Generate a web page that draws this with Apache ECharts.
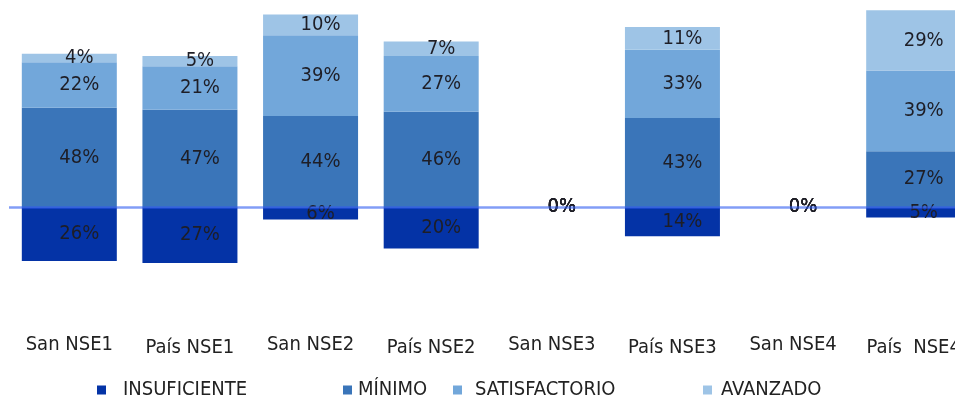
<!DOCTYPE html>
<html>
<head>
<meta charset="utf-8">
<script src="https://cdn.jsdelivr.net/npm/echarts@6/dist/echarts.min.js"></script>
<style>
  html, body { margin: 0; padding: 0; background: #fff; overflow: hidden; }
  #chart { width: 985px; height: 401px; }
</style>
</head>
<body>
<div id="chart"></div>
<script>
// values (percent)
var categories = ["San NSE1", "País NSE1", "San NSE2", "País NSE2", "San NSE3", "País NSE3", "San NSE4", "País  NSE4"];
var insuficiente = [26, 27, 6, 20, 0, 14, 0, 5];
var minimo = [48, 47, 44, 46, 0, 43, 0, 27];
var satisfactorio = [22, 21, 39, 27, 0, 33, 0, 39];
var avanzado = [4, 5, 10, 7, 0, 11, 0, 29];

var seriesNames = ["INSUFICIENTE", "MÍNIMO", "SATISFACTORIO", "AVANZADO"];
var colorList = ["#0433A6", "#3A75B9", "#72A7DA", "#9EC4E6"];
var fontFam = "DejaVu Sans Condensed";

// chart is a bit wider than the window: the last bar runs off the right edge
var chart = echarts.init(document.getElementById("chart"));

function makeSeries(name, data, idx) {
  var s = {
    type: "bar",
    name: name,
    stack: "total",
    data: data,
    barWidth: 95,
    itemStyle: { color: colorList[idx] },
    label: {
      show: true,
      position: "inside",
      offset: [10, 0],
      color: "#1e1e26",
      fontSize: 20,
      fontFamily: fontFam,
      formatter: function (p) {
        return Math.abs(p.value) + "%";
      },
    },
  };
  if (idx === 0) {
    s.markLine = {
      silent: true,
      symbol: "none",
      label: { show: false },
      lineStyle: { color: "#2f5cf0", width: 2.5, opacity: 0.6, type: "solid" },
      data: [{ yAxis: 0 }],
    };
  }
  return s;
}

// legend items sit at uneven spots in the reference, one legend per item
var legendLeft = [92, 338, 448, 698];
var legendPad = [12, 1, 8, 4];
var legends = seriesNames.map(function (n, i) {
  return {
    data: [n],
    left: legendLeft[i],
    top: 375,
    icon: "rect",
    itemWidth: 9,
    itemHeight: 9,
    textStyle: {
      color: "#222",
      fontSize: 20,
      fontFamily: fontFam,
      padding: [0, 0, 0, legendPad[i]],
    },
  };
});

var option = {
  backgroundColor: "#ffffff",
  animation: false,
  legend: legends,
  grid: {
    left: 9,
    width: 965,
    top: 0,
    height: 290,
  },
  xAxis: {
    type: "category",
    data: categories,
    axisLine: { show: false },
    axisTick: { show: false },
    splitLine: { show: false },
    axisLabel: {
      color: "#222",
      fontSize: 20,
      fontFamily: fontFam,
      margin: 45,
      interval: 0,
      // "País" labels sit a few pixels lower in the reference
      formatter: function (v) {
        return v.indexOf("País") === 0 ? "{p|" + v + "}" : "{s|" + v + "}";
      },
      rich: {
        s: { fontSize: 20, fontFamily: fontFam, color: "#222" },
        p: { fontSize: 20, fontFamily: fontFam, color: "#222", padding: [3, 0, 0, 0] },
      },
    },
  },
  yAxis: {
    type: "value",
    min: -40,
    max: 100,
    show: false,
    splitLine: { show: false },
  },
  series: [
    makeSeries(seriesNames[0], insuficiente.map(function (v) { return -v; }), 0),
    makeSeries(seriesNames[1], minimo, 1),
    makeSeries(seriesNames[2], satisfactorio, 2),
    makeSeries(seriesNames[3], avanzado, 3),
  ],
};
chart.setOption(option);
</script>
</body>
</html>
